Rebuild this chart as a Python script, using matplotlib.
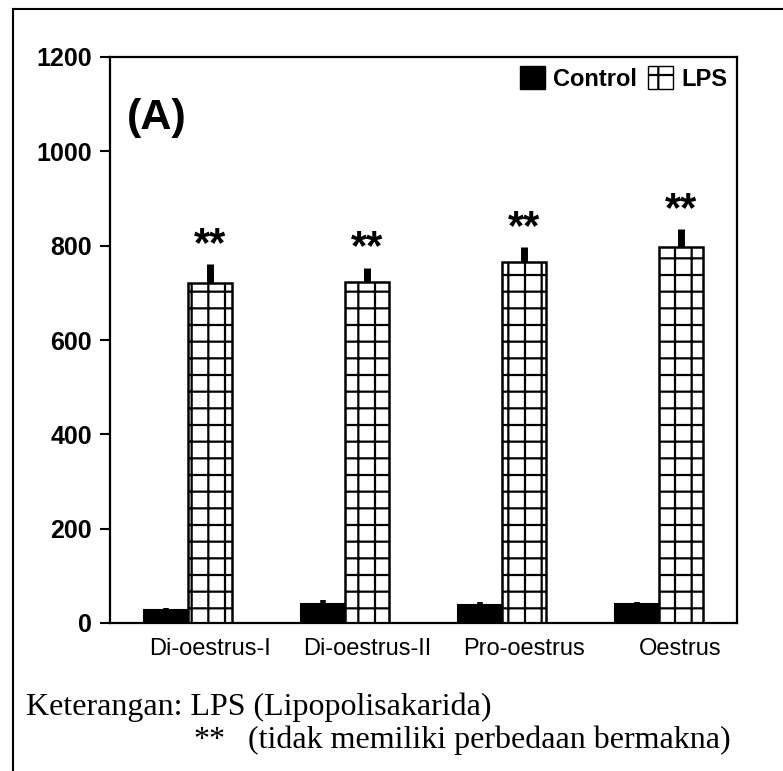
import matplotlib
matplotlib.use('Agg')
import matplotlib.pyplot as plt
from matplotlib.patches import Patch
from matplotlib.lines import Line2D
import numpy as np

plt.rcParams['font.family'] = ['Liberation Sans', 'DejaVu Sans']
plt.rcParams['hatch.linewidth'] = 1.6

# data
categories = ['Di-oestrus-I', 'Di-oestrus-II', 'Pro-oestrus', 'Oestrus']
control_vals = [28, 40, 38, 40]
control_err = [4, 8, 6, 4]
lps_vals = [721, 723, 765, 797]
lps_err = [40, 30, 32, 38]
sig_marks = ['**', '**', '**', '**']
yticks = [0, 200, 400, 600, 800, 1000, 1200]

W, H = 783, 771
fig = plt.figure(figsize=(W / 100, H / 100), dpi=100)
ax = fig.add_axes([110 / W, 1 - 623 / H, (737 - 110) / W, (623 - 57) / H])

x = np.arange(len(categories))
w = 0.28

ax.bar(x - w / 2, control_vals, w, color='black', edgecolor='black', linewidth=1.5)
ax.bar(x + w / 2, lps_vals, w, color='white', edgecolor='black', linewidth=1.8, hatch='+')

# only the upper half of the error bars is drawn
ax.errorbar(x - w / 2, control_vals, yerr=[np.zeros(4), control_err], fmt='none',
            ecolor='black', elinewidth=4, capsize=0)
ax.errorbar(x + w / 2, lps_vals, yerr=[np.zeros(4), lps_err], fmt='none',
            ecolor='black', elinewidth=5, capsize=0)

for xi, v, e, s in zip(x, lps_vals, lps_err, sig_marks):
    ax.annotate(s, (xi + w / 2, v + e), xytext=(0, 14), textcoords='offset points',
                ha='center', va='center', fontsize=30, fontweight='bold')

ax.set_xlim(-0.5, 3.5)
ax.set_ylim(0, 1200)
ax.set_yticks(yticks)
ax.set_yticklabels([str(t) for t in yticks], fontsize=18, fontweight='bold')
ax.tick_params(axis='y', direction='out', length=7, width=1.5, pad=6)
ax.set_xticks(x + w / 2)
ax.set_xticklabels(categories, fontsize=17)
ax.tick_params(axis='x', length=0, pad=11)
for sp in ax.spines.values():
    sp.set_linewidth(1.6)

ax.text(0.075, 0.892, '(A)', transform=ax.transAxes, ha='center', va='center',
        fontsize=31, fontweight='bold')

handles = [Patch(facecolor='black', edgecolor='black'),
           Patch(facecolor='white', edgecolor='black', hatch='+')]
ax.legend(handles, ['Control', 'LPS'], loc='upper right', ncol=2, frameon=False,
          prop={'size': 17, 'weight': 'bold'}, handlelength=1.05, handleheight=1.1,
          handletextpad=0.35, columnspacing=0.5, borderaxespad=0.2, borderpad=0.2)

# outer frame (top and left only)
fig.add_artist(Line2D([13 / W, 1], [1 - 9 / H, 1 - 9 / H], color='black', lw=1.5,
                      transform=fig.transFigure))
fig.add_artist(Line2D([13 / W, 13 / W], [0, 1 - 9 / H], color='black', lw=1.5,
                      transform=fig.transFigure))

serif = ['Liberation Serif', 'DejaVu Serif']
fig.text(26 / W, 1 - 715 / H, 'Keterangan: LPS (Lipopolisakarida)', family=serif,
         fontsize=23, va='baseline', ha='left')
fig.text(193 / W, 1 - 748 / H, '**', family=serif, fontsize=23, va='baseline', ha='left')
fig.text(248 / W, 1 - 748 / H, '(tidak memiliki perbedaan bermakna)', family=serif,
         fontsize=23, va='baseline', ha='left')

fig.savefig('out.png', dpi=100)
